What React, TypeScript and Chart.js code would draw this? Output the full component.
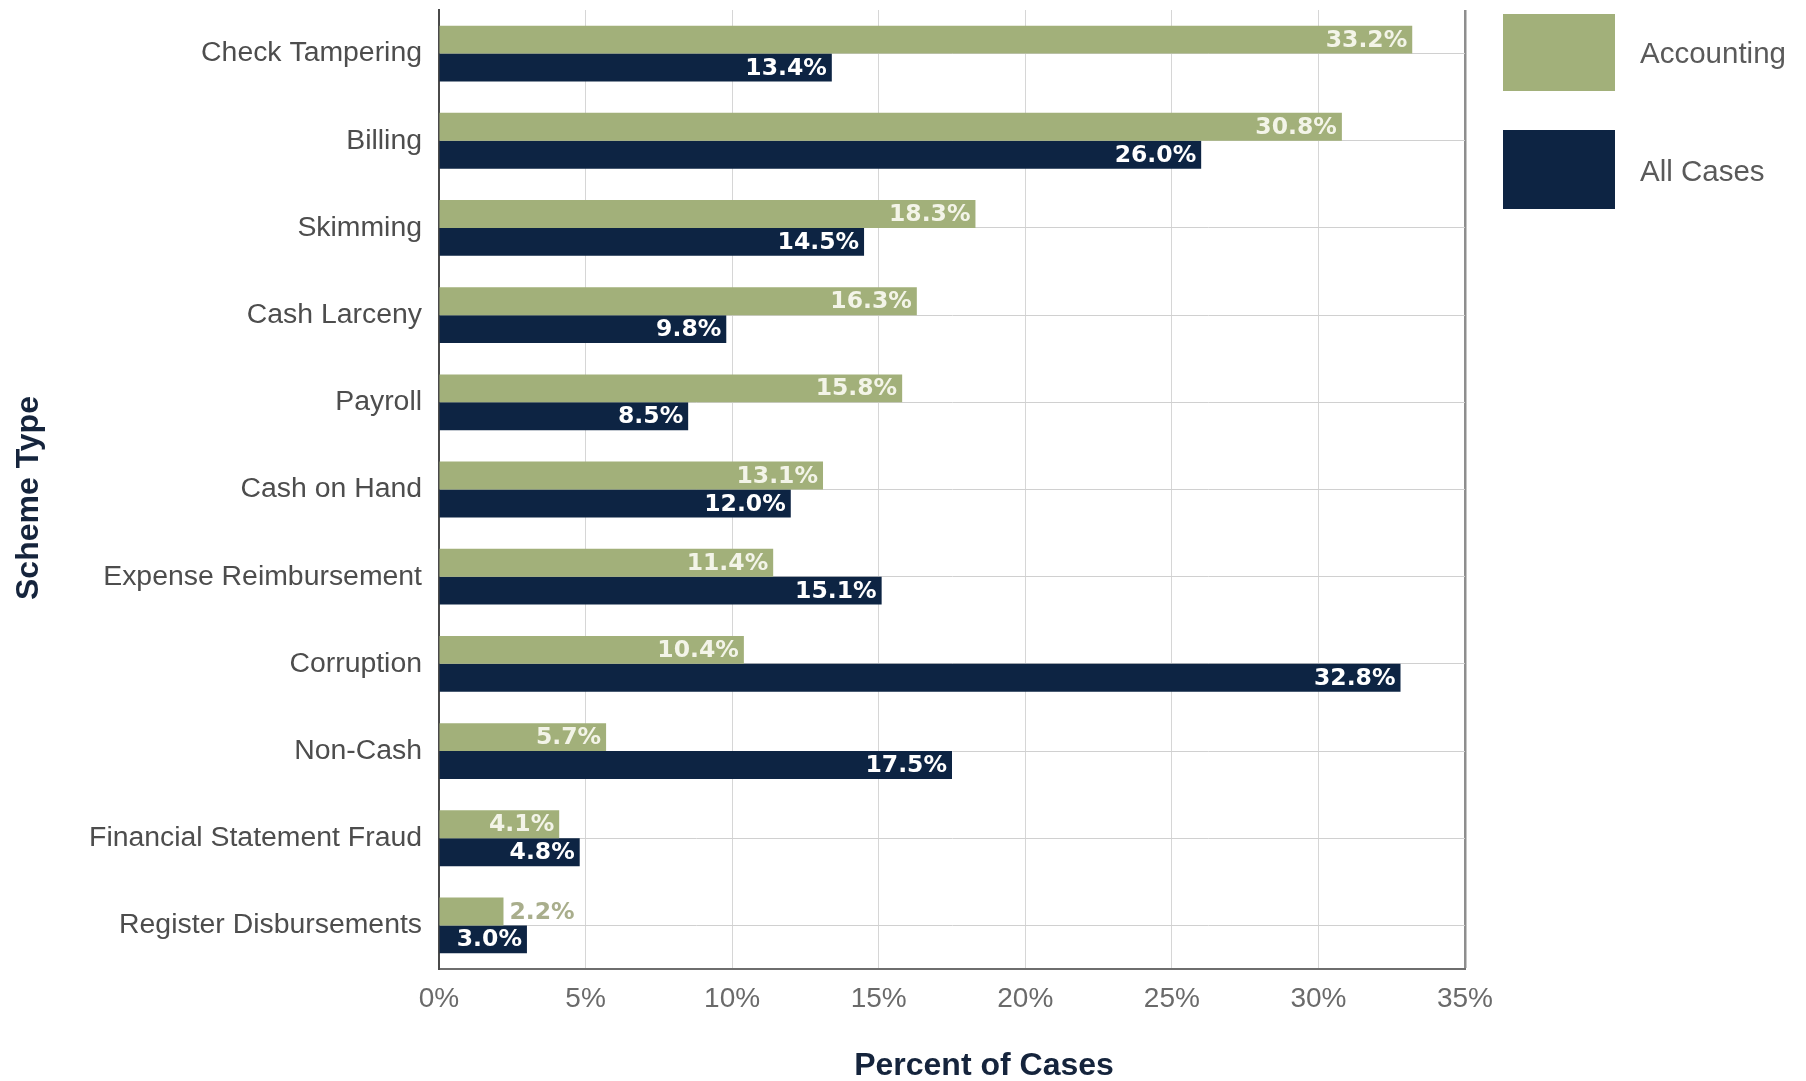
import React, { useEffect, useRef } from 'react';
import { Chart, registerables } from 'chart.js';

Chart.register(...registerables);

const categories = [
  'Check Tampering',
  'Billing',
  'Skimming',
  'Cash Larceny',
  'Payroll',
  'Cash on Hand',
  'Expense Reimbursement',
  'Corruption',
  'Non-Cash',
  'Financial Statement Fraud',
  'Register Disbursements',
];
const accountingValues = [33.2, 30.8, 18.3, 16.3, 15.8, 13.1, 11.4, 10.4, 5.7, 4.1, 2.2];
const allCasesValues = [13.4, 26.0, 14.5, 9.8, 8.5, 12.0, 15.1, 32.8, 17.5, 4.8, 3.0];
const seriesNames = ['Accounting', 'All Cases'];
const xMin = 0;
const xMax = 35;
const xStep = 5;
const xAxisTitle = 'Percent of Cases';
const yAxisTitle = 'Scheme Type';

const GREEN = '#a2b07a';
const NAVY = '#0d2443';
const W = 1806;
const H = 1081;

const dataLabelPlugin = {
  id: 'dataLabels',
  afterDatasetsDraw(chart: any) {
    const ctx = chart.ctx;
    ctx.save();
    ctx.font = 'bold 23.5px "DejaVu Sans"';
    ctx.textBaseline = 'middle';
    chart.data.datasets.forEach((ds: any, i: number) => {
      const meta = chart.getDatasetMeta(i);
      meta.data.forEach((bar: any, j: number) => {
        const v = ds.data[j];
        const text = v.toFixed(1) + '%';
        const w = ctx.measureText(text).width;
        const left = Math.min(bar.base, bar.x);
        const right = Math.max(bar.base, bar.x);
        if (right - left >= w + 12) {
          ctx.fillStyle = i === 0 ? '#f3f4e8' : '#ffffff';
          ctx.textAlign = 'right';
          ctx.fillText(text, right - 5, bar.y + 1);
        } else {
          ctx.fillStyle = i === 0 ? '#a9ae8c' : '#1d2636';
          ctx.textAlign = 'left';
          ctx.fillText(text, right + 6, bar.y + 1);
        }
      });
    });
    ctx.restore();
  },
};

const legendPlugin = {
  id: 'customLegend',
  afterDraw(chart: any) {
    const ctx = chart.ctx;
    const boxes = [
      { y: 14, h: 77, ty: 55 },
      { y: 130, h: 79, ty: 173 },
    ];
    ctx.save();
    chart.data.datasets.forEach((ds: any, i: number) => {
      const b = boxes[i];
      ctx.fillStyle = ds.backgroundColor;
      ctx.fillRect(1503, b.y, 112, b.h);
      ctx.fillStyle = '#5a5a5a';
      ctx.font = '29.5px "Liberation Sans", Arial, sans-serif';
      ctx.textAlign = 'left';
      ctx.textBaseline = 'middle';
      ctx.fillText(ds.label, 1640, b.ty);
    });
    ctx.restore();
  },
};

const axisTitlePlugin = {
  id: 'axisTitles',
  afterDraw(chart: any) {
    const ctx = chart.ctx;
    ctx.save();
    ctx.fillStyle = '#15243c';
    ctx.font = 'bold 32px "Liberation Sans", Arial, sans-serif';
    ctx.textAlign = 'center';
    ctx.textBaseline = 'middle';
    ctx.fillText(xAxisTitle, 984, 1066);
    ctx.translate(29, 498);
    ctx.rotate(-Math.PI / 2);
    ctx.fillText(yAxisTitle, 0, 0);
    ctx.restore();
  },
};

export default function App() {
  const canvasRef = useRef<HTMLCanvasElement | null>(null);

  useEffect(() => {
    if (!canvasRef.current) return;
    const chart = new Chart(canvasRef.current, {
      type: 'bar',
      data: {
        labels: categories,
        datasets: [
          {
            label: seriesNames[0],
            data: accountingValues,
            backgroundColor: GREEN,
            categoryPercentage: 0.64,
            barPercentage: 1.0,
          },
          {
            label: seriesNames[1],
            data: allCasesValues,
            backgroundColor: NAVY,
            categoryPercentage: 0.64,
            barPercentage: 1.0,
          },
        ],
      },
      options: {
        indexAxis: 'y',
        responsive: false,
        animation: false,
        layout: { padding: { left: 0, top: 10, right: W - 1465, bottom: 0 } },
        plugins: {
          legend: { display: false },
          tooltip: { enabled: false },
        },
        scales: {
          x: {
            min: xMin,
            max: xMax,
            afterFit: (scale: any) => {
              scale.height = H - 969;
              scale.paddingLeft = 0;
              scale.paddingRight = 0;
            },
            ticks: {
              stepSize: xStep,
              padding: 13,
              color: '#6a6a6a',
              font: { family: '"Liberation Sans", Arial, sans-serif', size: 28 },
              callback: (v: any) => v + '%',
            },
            grid: {
              drawTicks: false,
              color: (c: any) => (c.tick && c.tick.value === xMax ? '#8e8e8e' : '#d6d6d6'),
              lineWidth: (c: any) => (c.tick && c.tick.value === xMax ? 2.5 : 1),
            },
            border: { display: true, color: '#6e6e6e', width: 2 },
          },
          y: {
            afterFit: (scale: any) => {
              scale.width = 439;
              scale.paddingTop = 0;
              scale.paddingBottom = 0;
            },
            ticks: {
              padding: 17,
              color: '#4d4d4d',
              font: { family: '"Liberation Sans", Arial, sans-serif', size: 28.4 },
            },
            grid: {
              offset: false,
              drawTicks: false,
              color: '#d0d0d0',
              lineWidth: 1,
            },
            border: { display: true, color: '#4a4a4a', width: 2 },
          },
        },
      },
      plugins: [dataLabelPlugin, legendPlugin, axisTitlePlugin],
    } as any);
    return () => chart.destroy();
  }, []);

  return (
    <div style={{ position: 'fixed', left: 0, top: 0, width: W, height: H, background: '#ffffff' }}>
      <canvas ref={canvasRef} width={W} height={H} style={{ width: W, height: H, display: 'block' }} />
    </div>
  );
}
